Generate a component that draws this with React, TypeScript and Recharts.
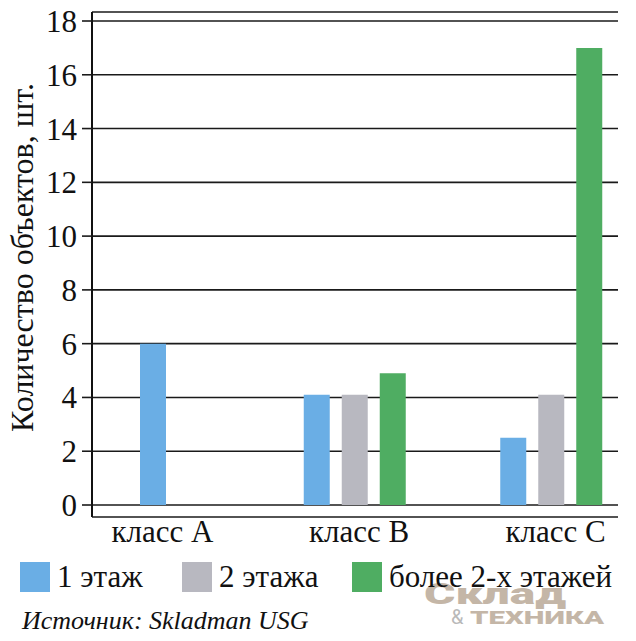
import React from 'react';
import { BarChart, Bar, XAxis, YAxis, CartesianGrid } from 'recharts';

const categories = ['класс A', 'класс B', 'класс C'];
const oneFloor = [6, 4.1, 2.5];
const twoFloors = [0, 4.1, 4.1];
const moreFloors = [0, 4.9, 17];
const yTicks = [0, 2, 4, 6, 8, 10, 12, 14, 16, 18];
const seriesNames = ['1 этаж', '2 этажа', 'более 2-х этажей'];
const seriesColors = ['#6aaee5', '#b8b8c0', '#4fad62'];
const yLabel = 'Количество объектов, шт.';
const sourceText = 'Источник: Skladman USG';

const FONT = '"Liberation Serif", serif';
const LOGO_FONT = 'Roboto, sans-serif';

// class A has only the first series: draw it alone, centred in its category
const rows = categories.map((name, i) => {
  const alone = !twoFloors[i] && !moreFloors[i];
  return {
    name,
    one: alone ? null : oneFloor[i],
    oneSolo: alone ? oneFloor[i] : null,
    two: twoFloors[i],
    more: moreFloors[i],
  };
});

const YLabel = (props: any) => {
  const vb = props.viewBox || { x: 0, y: 12, width: 92, height: 505 };
  const x = vb.x + 33;
  const y = vb.y + vb.height / 2 - 7;
  return (
    <text x={x} y={y} transform={`rotate(-90, ${x}, ${y})`} textAnchor="middle" fontFamily={FONT} fontSize={32} fill="#111">
      {yLabel}
    </text>
  );
};

const legendX = [20, 182, 352];

export default function App() {
  return (
    <div style={{ position: 'absolute', left: 0, top: 0, width: 636, height: 641, background: '#fff', overflow: 'hidden', fontFamily: FONT }}>
      <BarChart width={636} height={641} data={rows} margin={{ top: 12, right: 18, bottom: 94, left: 0 }} barSize={26} barGap={12}>
        <CartesianGrid vertical={false} stroke="#1a1a1a" strokeWidth={1.6} />
        <XAxis
          dataKey="name"
          height={30}
          axisLine={false}
          tickLine={false}
          tickSize={0}
          tickMargin={3}
          interval={0}
          padding={{ left: -31.75, right: -31.75 }}
          tick={{ fill: '#111', fontSize: 31, fontFamily: FONT, dx: 4 }}
        />
        <XAxis xAxisId="solo" dataKey="name" hide padding={{ left: -37, right: -26.5 }} />
        <YAxis
          domain={[0, 18]}
          ticks={yTicks}
          interval={0}
          width={92}
          padding={{ top: 9, bottom: 12 }}
          axisLine={{ stroke: '#111', strokeWidth: 2 }}
          tickLine={{ stroke: '#1a1a1a', strokeWidth: 1.6 }}
          tickSize={10}
          tickMargin={5}
          tick={{ fill: '#111', fontSize: 31, fontFamily: FONT }}
          label={YLabel}
        />
        <Bar dataKey="one" name={seriesNames[0]} fill={seriesColors[0]} isAnimationActive={false} />
        <Bar dataKey="two" name={seriesNames[1]} fill={seriesColors[1]} isAnimationActive={false} />
        <Bar dataKey="more" name={seriesNames[2]} fill={seriesColors[2]} isAnimationActive={false} />
        <Bar dataKey="oneSolo" xAxisId="solo" name={seriesNames[0]} fill={seriesColors[0]} isAnimationActive={false} />
      </BarChart>
      <svg width={636} height={641} style={{ position: 'absolute', left: 0, top: 0, pointerEvents: 'none' }}>
        <g>
          <text x={424} y={604} fontFamily={LOGO_FONT} fontWeight={900} fontSize={30} textLength={142} lengthAdjust="spacingAndGlyphs" fill="#c4b6a7">Склад</text>
          <text x={451} y={624} fontFamily={LOGO_FONT} fontWeight={400} fontSize={20} fill="#b9b9b9">&amp;</text>
          <text x={470} y={624} fontFamily={LOGO_FONT} fontWeight={900} fontSize={18} textLength={134} lengthAdjust="spacingAndGlyphs" fill="#c4b6a7">ТЕХНИКА</text>
        </g>
        {seriesNames.map((n, i) => (
          <g key={n}>
            <rect x={legendX[i]} y={562} width={30} height={30} fill={seriesColors[i]} />
            <text x={legendX[i] + 37} y={587} fontFamily={FONT} fontSize={31} fill="#111">{n}</text>
          </g>
        ))}
        <text x={22} y={629} fontFamily={FONT} fontStyle="italic" fontSize={26} fill="#111">{sourceText}</text>
      </svg>
    </div>
  );
}
